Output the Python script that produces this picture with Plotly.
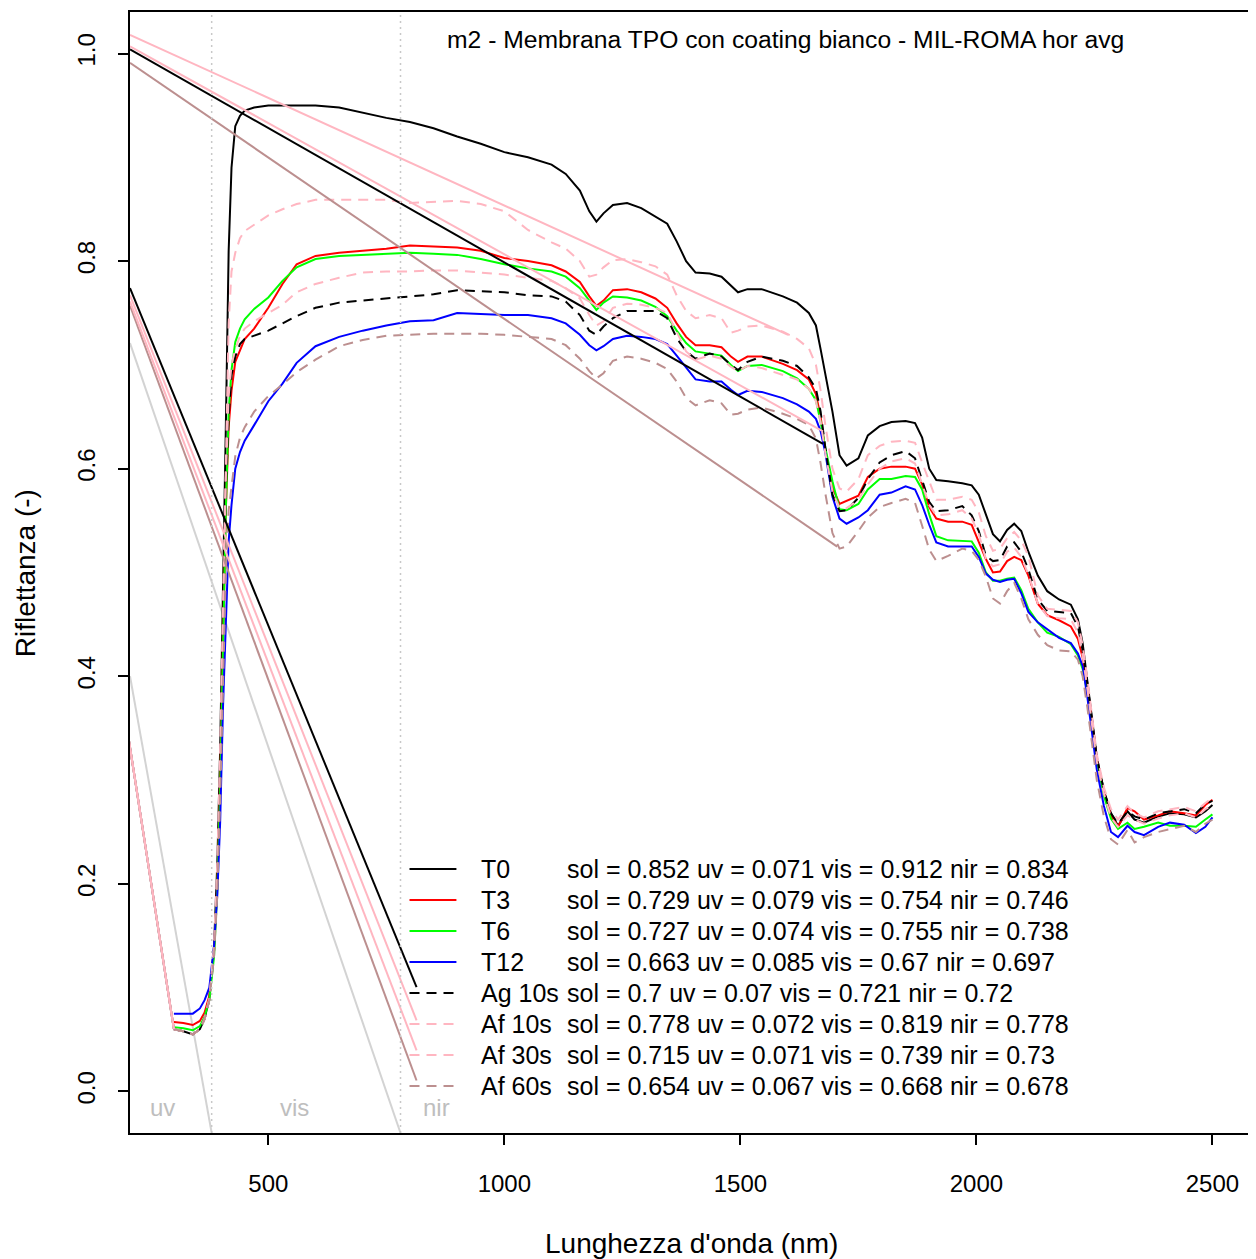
import plotly.graph_objects as go

# ---------------- data ----------------
wavelength = [300, 320, 340, 355, 365, 375, 385, 392, 398,
              404, 410, 416, 422, 430, 440, 450, 470, 500, 530,
              560, 600, 650, 700, 750, 800, 850, 900, 950, 1000,
              1050, 1100, 1130, 1160, 1180, 1195, 1210, 1230, 1260, 1290,
              1320, 1345, 1365, 1385, 1405, 1435, 1460, 1480, 1495, 1515,
              1545, 1590, 1620, 1645, 1660, 1670, 1680, 1695, 1710, 1725,
              1750, 1770, 1795, 1820, 1850, 1870, 1885, 1900, 1915, 1940,
              1970, 1990, 2005, 2020, 2035, 2050, 2065, 2080, 2095, 2110,
              2130, 2150, 2175, 2200, 2215, 2225, 2235, 2245, 2255, 2270,
              2285, 2300, 2320, 2335, 2355, 2385, 2410, 2440, 2465, 2485,
              2500]

t0 = [0.060, 0.058, 0.055, 0.060, 0.070, 0.090, 0.140, 0.220, 0.330,
      0.470, 0.640, 0.810, 0.890, 0.930, 0.940, 0.945, 0.948, 0.950, 0.950,
      0.950, 0.950, 0.948, 0.943, 0.938, 0.934, 0.928, 0.920, 0.913, 0.905,
      0.900, 0.893, 0.884, 0.868, 0.848, 0.838, 0.846, 0.854, 0.856, 0.851,
      0.843, 0.836, 0.819, 0.800, 0.789, 0.788, 0.785, 0.776, 0.770, 0.773,
      0.773, 0.766, 0.760, 0.750, 0.738, 0.715, 0.690, 0.655, 0.613, 0.603,
      0.610, 0.632, 0.641, 0.645, 0.646, 0.644, 0.630, 0.600, 0.589, 0.588,
      0.586, 0.584, 0.575, 0.557, 0.537, 0.530, 0.541, 0.547, 0.540, 0.520,
      0.497, 0.482, 0.474, 0.469, 0.455, 0.432, 0.395, 0.360, 0.322, 0.290,
      0.268, 0.256, 0.270, 0.262, 0.259, 0.265, 0.268, 0.267, 0.264, 0.270,
      0.276]

t3 = [0.067, 0.066, 0.064, 0.068, 0.076, 0.092, 0.135, 0.200, 0.300,
      0.430, 0.560, 0.640, 0.675, 0.703, 0.715, 0.725, 0.735, 0.755, 0.778,
      0.797, 0.805, 0.808, 0.810, 0.812, 0.815, 0.814, 0.813, 0.810, 0.803,
      0.800, 0.796, 0.790, 0.780, 0.766, 0.757, 0.762, 0.772, 0.773, 0.770,
      0.764, 0.755, 0.740, 0.727, 0.719, 0.719, 0.717, 0.708, 0.703, 0.708,
      0.708, 0.701, 0.695, 0.686, 0.672, 0.650, 0.618, 0.582, 0.566, 0.569,
      0.574, 0.592, 0.600, 0.602, 0.602, 0.600, 0.585, 0.563, 0.552, 0.549,
      0.549, 0.546, 0.530, 0.513, 0.500, 0.501, 0.511, 0.515, 0.512, 0.497,
      0.470, 0.459, 0.454, 0.448, 0.436, 0.418, 0.390, 0.355, 0.320, 0.288,
      0.266, 0.255, 0.273, 0.270, 0.262, 0.266, 0.270, 0.268, 0.266, 0.276,
      0.281]

t6 = [0.062, 0.061, 0.059, 0.063, 0.072, 0.088, 0.130, 0.195, 0.290,
      0.420, 0.560, 0.655, 0.695, 0.722, 0.735, 0.744, 0.754, 0.765, 0.781,
      0.794, 0.802, 0.805, 0.806, 0.807, 0.808, 0.807, 0.806, 0.802, 0.797,
      0.793, 0.790, 0.785, 0.774, 0.762, 0.753, 0.760, 0.766, 0.765, 0.762,
      0.756, 0.747, 0.733, 0.721, 0.713, 0.711, 0.709, 0.700, 0.694, 0.699,
      0.700, 0.694, 0.687, 0.677, 0.666, 0.645, 0.620, 0.588, 0.561, 0.560,
      0.566, 0.580, 0.590, 0.590, 0.593, 0.592, 0.580, 0.556, 0.535, 0.531,
      0.530, 0.530, 0.519, 0.500, 0.492, 0.492, 0.494, 0.495, 0.483, 0.465,
      0.452, 0.442, 0.438, 0.431, 0.420, 0.407, 0.385, 0.352, 0.318, 0.285,
      0.263, 0.253, 0.259, 0.253, 0.255, 0.259, 0.256, 0.256, 0.255, 0.262,
      0.267]

t12 = [0.075, 0.075, 0.075, 0.080, 0.088, 0.100, 0.140, 0.190, 0.260,
       0.370, 0.460, 0.530, 0.565, 0.600, 0.616, 0.627, 0.642, 0.665, 0.682,
       0.702, 0.718, 0.727, 0.733, 0.738, 0.742, 0.743, 0.750, 0.749, 0.748,
       0.748, 0.745, 0.740, 0.729, 0.719, 0.714, 0.718, 0.725, 0.728, 0.727,
       0.725, 0.720, 0.709, 0.697, 0.686, 0.684, 0.684, 0.676, 0.671, 0.675,
       0.674, 0.668, 0.662, 0.655, 0.648, 0.636, 0.615, 0.573, 0.552, 0.547,
       0.553, 0.560, 0.575, 0.577, 0.583, 0.580, 0.565, 0.546, 0.529, 0.525,
       0.525, 0.525, 0.515, 0.499, 0.493, 0.491, 0.493, 0.494, 0.480, 0.462,
       0.452, 0.445, 0.437, 0.432, 0.422, 0.410, 0.380, 0.345, 0.310, 0.275,
       0.250, 0.245, 0.256, 0.250, 0.247, 0.255, 0.259, 0.257, 0.249, 0.255,
       0.264]

ag10 = [0.060, 0.058, 0.055, 0.060, 0.070, 0.088, 0.135, 0.205, 0.310,
        0.440, 0.580, 0.650, 0.690, 0.708, 0.720, 0.725, 0.728, 0.733, 0.740,
        0.747, 0.755, 0.760, 0.762, 0.764, 0.766, 0.768, 0.772, 0.771, 0.770,
        0.767, 0.766, 0.761, 0.748, 0.733, 0.729, 0.737, 0.745, 0.752, 0.752,
        0.752, 0.745, 0.726, 0.713, 0.706, 0.711, 0.708, 0.700, 0.695, 0.703,
        0.708, 0.704, 0.699, 0.688, 0.677, 0.655, 0.620, 0.575, 0.559, 0.560,
        0.572, 0.590, 0.606, 0.613, 0.617, 0.610, 0.590, 0.568, 0.559, 0.560,
        0.564, 0.555, 0.540, 0.516, 0.511, 0.512, 0.525, 0.529, 0.520, 0.503,
        0.474, 0.463, 0.462, 0.461, 0.448, 0.425, 0.393, 0.358, 0.322, 0.290,
        0.268, 0.258, 0.270, 0.265, 0.262, 0.268, 0.270, 0.272, 0.268, 0.277,
        0.280]

af10 = [0.060, 0.058, 0.055, 0.060, 0.070, 0.090, 0.140, 0.220, 0.330,
        0.460, 0.620, 0.740, 0.790, 0.808, 0.822, 0.829, 0.835, 0.844, 0.850,
        0.855, 0.859, 0.859, 0.859, 0.859, 0.856, 0.857, 0.858, 0.855, 0.848,
        0.830, 0.818, 0.812, 0.800, 0.785, 0.787, 0.794, 0.801, 0.802, 0.799,
        0.795, 0.787, 0.767, 0.752, 0.745, 0.748, 0.745, 0.731, 0.733, 0.737,
        0.738, 0.732, 0.725, 0.716, 0.700, 0.675, 0.642, 0.600, 0.581, 0.578,
        0.590, 0.613, 0.622, 0.626, 0.627, 0.625, 0.606, 0.588, 0.570, 0.570,
        0.573, 0.570, 0.558, 0.535, 0.521, 0.523, 0.533, 0.539, 0.531, 0.516,
        0.478, 0.465, 0.464, 0.463, 0.452, 0.430, 0.398, 0.362, 0.325, 0.293,
        0.272, 0.262, 0.275, 0.268, 0.264, 0.270, 0.272, 0.274, 0.270, 0.278,
        0.283]

af30 = [0.060, 0.058, 0.055, 0.060, 0.070, 0.088, 0.135, 0.205, 0.310,
        0.440, 0.590, 0.670, 0.700, 0.715, 0.728, 0.735, 0.742, 0.750, 0.758,
        0.770, 0.778, 0.784, 0.789, 0.790, 0.790, 0.791, 0.791, 0.789, 0.787,
        0.784, 0.781, 0.774, 0.764, 0.748, 0.738, 0.742, 0.755, 0.759, 0.758,
        0.755, 0.750, 0.732, 0.713, 0.705, 0.709, 0.706, 0.698, 0.694, 0.699,
        0.697, 0.690, 0.686, 0.677, 0.665, 0.645, 0.615, 0.578, 0.562, 0.562,
        0.570, 0.585, 0.600, 0.607, 0.610, 0.605, 0.585, 0.565, 0.555, 0.556,
        0.560, 0.552, 0.537, 0.513, 0.506, 0.508, 0.520, 0.524, 0.515, 0.498,
        0.470, 0.458, 0.456, 0.455, 0.442, 0.420, 0.388, 0.352, 0.318, 0.287,
        0.264, 0.255, 0.266, 0.262, 0.258, 0.263, 0.266, 0.268, 0.264, 0.272,
        0.276]

af60 = [0.060, 0.058, 0.055, 0.060, 0.070, 0.088, 0.130, 0.190, 0.280,
        0.390, 0.500, 0.560, 0.585, 0.612, 0.630, 0.640, 0.655, 0.670, 0.681,
        0.693, 0.705, 0.718, 0.724, 0.728, 0.729, 0.730, 0.730, 0.730, 0.729,
        0.727, 0.725, 0.719, 0.706, 0.694, 0.687, 0.692, 0.704, 0.708, 0.706,
        0.702, 0.696, 0.684, 0.668, 0.661, 0.666, 0.663, 0.652, 0.653, 0.657,
        0.659, 0.653, 0.648, 0.642, 0.629, 0.605, 0.576, 0.538, 0.523, 0.525,
        0.540, 0.553, 0.563, 0.567, 0.571, 0.567, 0.545, 0.522, 0.511, 0.516,
        0.523, 0.521, 0.512, 0.496, 0.475, 0.470, 0.482, 0.490, 0.475, 0.455,
        0.440, 0.430, 0.425, 0.424, 0.416, 0.400, 0.370, 0.335, 0.300, 0.265,
        0.243, 0.238, 0.252, 0.240, 0.245, 0.250, 0.253, 0.256, 0.250, 0.258,
        0.262]

series_names = ["T0", "T3", "T6", "T12", "Ag 10s", "Af 10s", "Af 30s", "Af 60s"]
series_values = [t0, t3, t6, t12, ag10, af10, af30, af60]
series_colors = ["black", "red", "#00FF00", "blue", "black", "lightpink", "lightpink", "rosybrown"]
series_dash = ["solid", "solid", "solid", "solid", "dash", "dash", "dash", "dash"]
legend_stats = [
    "sol = 0.852 uv = 0.071 vis = 0.912 nir = 0.834",
    "sol = 0.729 uv = 0.079 vis = 0.754 nir = 0.746",
    "sol = 0.727 uv = 0.074 vis = 0.755 nir = 0.738",
    "sol = 0.663 uv = 0.085 vis = 0.67 nir = 0.697",
    "sol = 0.7 uv = 0.07 vis = 0.721 nir = 0.72",
    "sol = 0.778 uv = 0.072 vis = 0.819 nir = 0.778",
    "sol = 0.715 uv = 0.071 vis = 0.739 nir = 0.73",
    "sol = 0.654 uv = 0.067 vis = 0.668 nir = 0.678",
]

# stray solid chords of the dashed series (order: Ag 10s, Af 60s, Af 10s, Af 30s)
chord_series = ["Ag 10s", "Af 60s", "Af 10s", "Af 30s"]
chord_colors = ["black", "rosybrown", "lightpink", "lightpink"]
lead_x0 = [200, 200, 200, 200]
lead_y0 = [0.352, 0.352, 0.352, 0.352]
chord_x0 = [207, 207, 207, 207]
upper_y0 = [1.004, 0.991, 1.018, 1.007]
upper_x1 = [1675, 1705, 1601, 1675]
upper_y1 = [0.624, 0.525, 0.729, 0.636]
steep_y0 = [0.774, 0.757, 0.767, 0.761]
steep_x1 = [814, 814, 814, 814]
steep_y1 = [0.1005, 0.0106, 0.0686, 0.0396]

# band boundaries and grey chords
band_edges = [380, 780]
band_labels = ["uv", "vis", "nir"]
band_label_x = [275, 556, 856]
grey_x0 = [207, 207]
grey_y0 = [0.721, 0.400]
grey_x1 = [780, 380]
grey_y1 = [-0.04, -0.04]

title_text = "m2 - Membrana TPO con coating bianco - MIL-ROMA hor avg"

# ---------------- figure ----------------
FONT = "Liberation Sans, Arial, sans-serif"
OFF = 8                      # page margin around the plot div
W, H = 1256 - OFF, 1259 - OFF
L, R, T, B = 130 - OFF, 0, 12 - OFF, 126
pw, ph = W - L - R, H - T - B

def px(xp):
    return (xp - OFF - L) / pw

def py(yp):
    return (H - B - (yp - OFF)) / ph

fig = go.Figure()

for i in range(len(grey_x0)):
    fig.add_trace(go.Scatter(x=[grey_x0[i], grey_x1[i]], y=[grey_y0[i], grey_y1[i]],
                             mode="lines", line=dict(color="#D3D3D3", width=2),
                             hoverinfo="skip", showlegend=False))

for name, vals, col, dsh in zip(series_names, series_values, series_colors, series_dash):
    fig.add_trace(go.Scatter(x=wavelength, y=vals, mode="lines", name=name,
                             line=dict(color=col, width=2,
                                       dash="10px,7px" if dsh == "dash" else "solid"),
                             showlegend=False))

for i, sname in enumerate(chord_series):
    vals = series_values[series_names.index(sname)]
    fig.add_trace(go.Scatter(x=[lead_x0[i], wavelength[0]], y=[lead_y0[i], vals[0]],
                             mode="lines", line=dict(color=chord_colors[i], width=2),
                             hoverinfo="skip", showlegend=False))
    fig.add_trace(go.Scatter(x=[chord_x0[i], upper_x1[i]], y=[upper_y0[i], upper_y1[i]],
                             mode="lines", line=dict(color=chord_colors[i], width=2),
                             hoverinfo="skip", showlegend=False))
    fig.add_trace(go.Scatter(x=[chord_x0[i], steep_x1[i]], y=[steep_y0[i], steep_y1[i]],
                             mode="lines", line=dict(color=chord_colors[i], width=2),
                             hoverinfo="skip", showlegend=False))

shapes = []
for xe in band_edges:
    shapes.append(dict(type="line", xref="x", yref="paper", x0=xe, x1=xe, y0=0, y1=1,
                       line=dict(color="#C8C8C8", width=1.5, dash="2px,4px")))

annotations = []
for lab, lx in zip(band_labels, band_label_x):
    annotations.append(dict(x=lx, y=-0.015, xref="x", yref="y", text=lab, showarrow=False,
                            font=dict(family=FONT, size=24, color="#BEBEBE"),
                            xanchor="center", yanchor="middle"))

row0, rowstep = 869, 31
for i, (name, col, dsh, st) in enumerate(zip(series_names, series_colors, series_dash, legend_stats)):
    yp = row0 + i * rowstep
    shapes.append(dict(type="line", xref="paper", yref="paper",
                       x0=px(410), x1=px(457), y0=py(yp), y1=py(yp),
                       line=dict(color=col, width=2,
                                 dash="10px,7px" if dsh == "dash" else "solid")))
    annotations.append(dict(x=px(480), y=py(yp), xref="paper", yref="paper", text=name,
                            showarrow=False, xanchor="left", yanchor="middle",
                            font=dict(family=FONT, size=25, color="black")))
    annotations.append(dict(x=px(566), y=py(yp), xref="paper", yref="paper", text=st,
                            showarrow=False, xanchor="left", yanchor="middle",
                            font=dict(family=FONT, size=25, color="black")))

annotations.append(dict(x=px(787), y=py(40), xref="paper", yref="paper", text=title_text,
                        showarrow=False, xanchor="center", yanchor="middle",
                        font=dict(family=FONT, size=24.7, color="black")))
annotations.append(dict(x=px(692), y=py(1243), xref="paper", yref="paper",
                        text="Lunghezza d'onda (nm)", showarrow=False,
                        xanchor="center", yanchor="middle",
                        font=dict(family=FONT, size=28, color="black")))
annotations.append(dict(x=px(25), y=py(573), xref="paper", yref="paper",
                        text="Riflettanza (-)", showarrow=False, textangle=-90,
                        xanchor="center", yanchor="middle",
                        font=dict(family=FONT, size=28, color="black")))

fig.update_layout(
    width=W, height=H,
    margin=dict(l=L, r=R, t=T, b=B),
    paper_bgcolor="white", plot_bgcolor="white",
    font=dict(family=FONT, size=24, color="black"),
    shapes=shapes, annotations=annotations,
    showlegend=False,
    xaxis=dict(range=[207, 2588], tickvals=[500, 1000, 1500, 2000, 2500],
               ticks="outside", ticklen=10, tickwidth=1.5, tickcolor="black",
               showline=True, linecolor="black", linewidth=1.5, mirror=True,
               showgrid=False, zeroline=False, ticklabelstandoff=18,
               tickfont=dict(family=FONT, size=24)),
    yaxis=dict(range=[-0.04, 1.04], tickvals=[0, 0.2, 0.4, 0.6, 0.8, 1.0],
               ticktext=["0.0", "0.2", "0.4", "0.6", "0.8", "1.0"],
               tickangle=-90,
               ticks="outside", ticklen=10, tickwidth=1.5, tickcolor="black",
               showline=True, linecolor="black", linewidth=1.5, mirror=True,
               showgrid=False, zeroline=False, ticklabelstandoff=14,
               tickfont=dict(family=FONT, size=24)),
)

fig.write_html("out.html")
